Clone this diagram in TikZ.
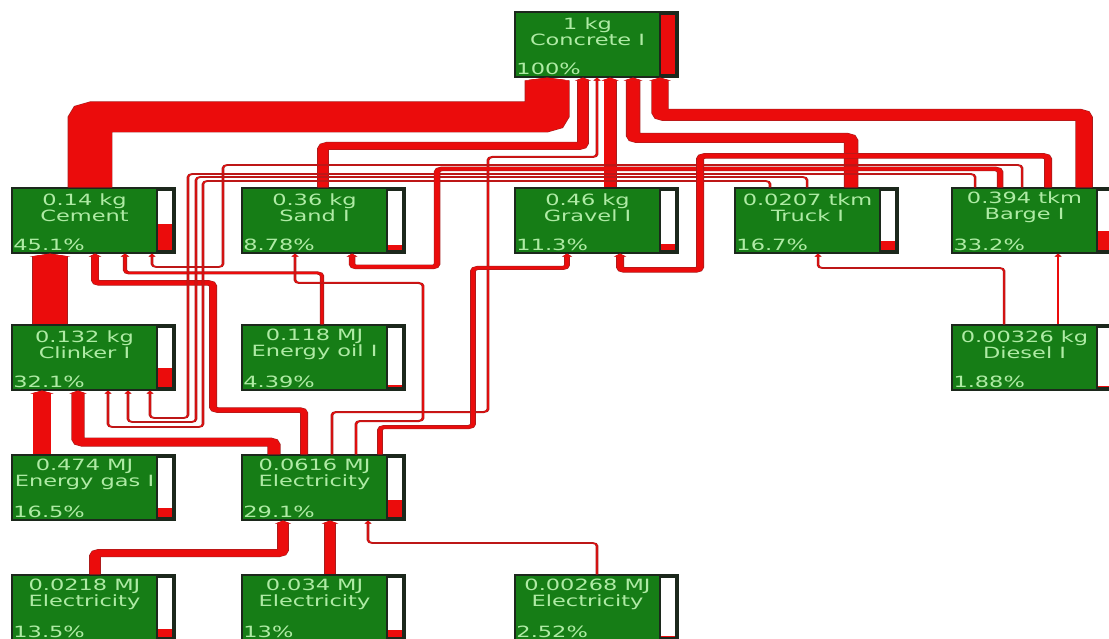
\documentclass[tikz,border=0pt]{standalone}
\usepackage{fontspec}
\setmainfont{DejaVu Sans}
\usetikzlibrary{arrows.meta}

\definecolor{boxgreen}{RGB}{22,125,22}
\definecolor{boxedge}{RGB}{28,40,28}
\definecolor{boxtext}{RGB}{175,235,165}
\definecolor{flowred}{RGB}{235,12,12}
\definecolor{flowedge}{RGB}{165,30,30}

\begin{document}
\begin{tikzpicture}[
    barshare/.initial=0,
    proc/.style={draw=boxedge, line width=1.2pt, fill=boxgreen, minimum width=112.4pt, minimum height=65pt, inner sep=0pt,
      path picture={
        \draw[boxedge, line width=1.2pt, fill=white] ([shift={(-12.4pt,-2pt)}]path picture bounding box.north east) rectangle ([shift={(-1.6pt,2pt)}]path picture bounding box.south east);
        \fill[flowred] ([shift={(-11.8pt,2.6pt)}]path picture bounding box.south east) rectangle ([shift={(-2.2pt,2.6pt+\pgfkeysvalueof{/tikz/barshare}*59pt)}]path picture bounding box.south east);
      }},
    ptext/.style={text=boxtext, font=\fontsize{15.5}{16}\selectfont, align=center, inner sep=0pt},
    flow/.style={draw=flowred, line width=#1pt, rounded corners=3pt, -{Triangle[length=3pt, width=3pt 1]},
      preaction={draw=flowedge, line width=#1pt+1pt}}
]
    \path[use as bounding box] (0pt,0pt) rectangle (1109pt,-639pt);
    \fill[white] (0pt,0pt) rectangle (1109pt,-639pt);
    \clip (0pt,0pt) rectangle (1109pt,-639pt);

    \begin{scope}[x={(0.6897pt,0pt)}, y={(0pt,-1pt)}, transform canvas={xscale=1.45}]
        % process boxes
        \node[proc, barshare=1] (concrete) at (596.5,44.5) {};
        \node[ptext] (concretelbl) at ([shift={(-9,-13)}]concrete.center) {1 kg\\Concrete I};
        \node[ptext, anchor=west] (concretepct) at ([shift={(2,-9)}]concrete.south west) {100\%};

        \node[proc, barshare=0.451] (cement) at (93.5,220.5) {};
        \node[ptext] (cementlbl) at ([shift={(-9,-13)}]cement.center) {0.14 kg\\Cement};
        \node[ptext, anchor=west] (cementpct) at ([shift={(2,-9)}]cement.south west) {45.1\%};

        \node[proc, barshare=0.0878] (sand) at (323.5,220.5) {};
        \node[ptext] (sandlbl) at ([shift={(-9,-13)}]sand.center) {0.36 kg\\Sand I};
        \node[ptext, anchor=west] (sandpct) at ([shift={(2,-9)}]sand.south west) {8.78\%};

        \node[proc, barshare=0.113] (gravel) at (596.5,220.5) {};
        \node[ptext] (gravellbl) at ([shift={(-9,-13)}]gravel.center) {0.46 kg\\Gravel I};
        \node[ptext, anchor=west] (gravelpct) at ([shift={(2,-9)}]gravel.south west) {11.3\%};

        \node[proc, barshare=0.167] (truck) at (816.5,220.5) {};
        \node[ptext] (trucklbl) at ([shift={(-9,-13)}]truck.center) {0.0207 tkm\\Truck I};
        \node[ptext, anchor=west] (truckpct) at ([shift={(2,-9)}]truck.south west) {16.7\%};

        \node[proc, barshare=0.332] (barge) at (1033.5,220.5) {};
        \node[ptext] (bargelbl) at ([shift={(-9,-13)}]barge.center) {0.394 tkm\\Barge I};
        \node[ptext, anchor=west] (bargepct) at ([shift={(2,-9)}]barge.south west) {33.2\%};

        \node[proc, barshare=0.321] (clinker) at (93.5,357.5) {};
        \node[ptext] (clinkerlbl) at ([shift={(-9,-13)}]clinker.center) {0.132 kg\\Clinker I};
        \node[ptext, anchor=west] (clinkerpct) at ([shift={(2,-9)}]clinker.south west) {32.1\%};

        \node[proc, barshare=0.0439] (oil) at (323.5,357.5) {};
        \node[ptext] (oillbl) at ([shift={(-9,-13)}]oil.center) {0.118 MJ\\Energy oil I};
        \node[ptext, anchor=west] (oilpct) at ([shift={(2,-9)}]oil.south west) {4.39\%};

        \node[proc, barshare=0.0188] (diesel) at (1033.5,357.5) {};
        \node[ptext] (diesellbl) at ([shift={(-9,-13)}]diesel.center) {0.00326 kg\\Diesel I};
        \node[ptext, anchor=west] (dieselpct) at ([shift={(2,-9)}]diesel.south west) {1.88\%};

        \node[proc, barshare=0.165] (gas) at (93.5,487.5) {};
        \node[ptext] (gaslbl) at ([shift={(-9,-13)}]gas.center) {0.474 MJ\\Energy gas I};
        \node[ptext, anchor=west] (gaspct) at ([shift={(2,-9)}]gas.south west) {16.5\%};

        \node[proc, barshare=0.291] (elec) at (323.5,487.5) {};
        \node[ptext] (eleclbl) at ([shift={(-9,-13)}]elec.center) {0.0616 MJ\\Electricity};
        \node[ptext, anchor=west] (elecpct) at ([shift={(2,-9)}]elec.south west) {29.1\%};

        \node[proc, barshare=0.135] (eleca) at (93.5,607.5) {};
        \node[ptext] (elecalbl) at ([shift={(-9,-13)}]eleca.center) {0.0218 MJ\\Electricity};
        \node[ptext, anchor=west] (elecapct) at ([shift={(2,-9)}]eleca.south west) {13.5\%};

        \node[proc, barshare=0.13] (elecb) at (323.5,607.5) {};
        \node[ptext] (elecblbl) at ([shift={(-9,-13)}]elecb.center) {0.034 MJ\\Electricity};
        \node[ptext, anchor=west] (elecbpct) at ([shift={(2,-9)}]elecb.south west) {13\%};

        \node[proc, barshare=0.0252] (elecc) at (596.5,607.5) {};
        \node[ptext] (elecclbl) at ([shift={(-9,-13)}]elecc.center) {0.00268 MJ\\Electricity};
        \node[ptext, anchor=west] (eleccpct) at ([shift={(2,-9)}]elecc.south west) {2.52\%};

        % flows into concrete
        \draw[flow=30] (cement.north -| 90,0) |- (547,117) -- (concrete.south -| 547,0);
        \draw[flow=7] (sand.north -| 323,0) |- (583,146) -- (concrete.south -| 583,0);
        \draw[flow=1] (elec.north -| 332,0) |- (488,412) |- (597,157) -- (concrete.south -| 597,0);
        \draw[flow=8] (gravel.north -| 610,0) -- (concrete.south -| 610,0);
        \draw[flow=9] (truck.north -| 851,0) |- (633,138) -- (concrete.south -| 633,0);
        \draw[flow=11] (barge.north -| 1084,0) |- (660,115) -- (concrete.south -| 660,0);

        % flows into cement
        \draw[flow=24] (clinker.north -| 50,0) -- (cement.south -| 50,0);
        \draw[flow=4.5] (elec.north -| 304,0) |- (213,410) |- (95,283) -- (cement.south -| 95,0);
        \draw[flow=2] (oil.north -| 322,0) |- (125,273) -- (cement.south -| 125,0);
        \draw[flow=0.8] (barge.north -| 1022,0) |- (223,165) |- (152,267) -- (cement.south -| 152,0);

        % flows into clinker
        \draw[flow=12] (gas.north -| 42,0) -- (clinker.south -| 42,0);
        \draw[flow=8] (elec.north -| 274,0) |- (78,442) -- (clinker.south -| 78,0);
        \draw[flow=0.8] (barge.north -| 975,0) |- (188,174) |- (150,418) -- (clinker.south -| 150,0);
        \draw[flow=0.8] (truck.north -| 807,0) |- (196,177) |- (128,422) -- (clinker.south -| 128,0);
        \draw[flow=0.8] (truck.north -| 770,0) |- (203,181) |- (108,427) -- (clinker.south -| 108,0);

        % flows into sand and gravel
        \draw[flow=1] (elec.north -| 356,0) |- (423,421) |- (295,283) -- (sand.south -| 295,0);
        \draw[flow=3.5] (barge.north -| 1000,0) |- (437,169) |- (352,267) -- (sand.south -| 352,0);
        \draw[flow=3] (elec.north -| 380,0) |- (473,427) |- (567,268) -- (gravel.south -| 567,0);
        \draw[flow=4.5] (barge.north -| 1048,0) |- (700,156) |- (620,270) -- (gravel.south -| 620,0);

        % flows into truck and barge
        \draw[flow=0.8] (diesel.north -| 1004,0) |- (818,268) -- (truck.south -| 818,0);
        \draw[flow=0.8] (diesel.north -| 1058,0) -- (barge.south -| 1058,0);

        % flows into electricity
        \draw[flow=7] (eleca.north -| 95,0) |- (283,553) -- (elec.south -| 283,0);
        \draw[flow=7.5] (elecb.north -| 330,0) -- (elec.south -| 330,0);
        \draw[flow=0.8] (elecc.north -| 597,0) |- (368,543) -- (elec.south -| 368,0);
    \end{scope}
\end{tikzpicture}
\end{document}
